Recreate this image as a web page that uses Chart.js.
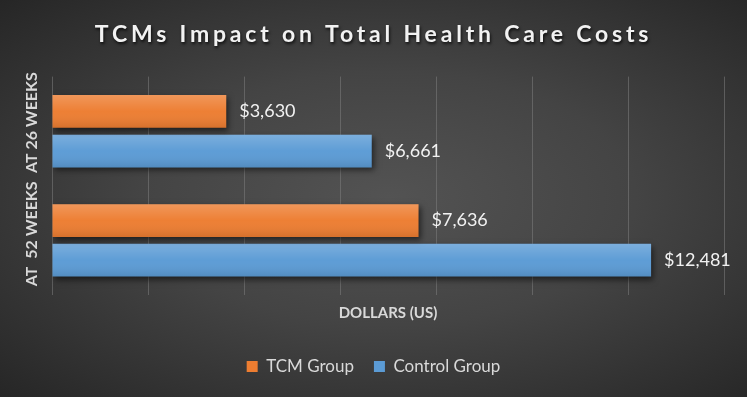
<!DOCTYPE html>
<html>
<head>
<meta charset="utf-8">
<script src="https://cdn.jsdelivr.net/npm/chart.js@4.4.1/dist/chart.umd.min.js"></script>
<style>
html,body{margin:0;padding:0;}
body{width:747px;height:397px;overflow:hidden;background:radial-gradient(ellipse at 52% 50%, #535353 0%, #444444 45%, #262626 100%);}
#wrap{width:747px;height:397px;position:relative;}
</style>
</head>
<body>
<div id="wrap"><canvas id="c" width="747" height="397"></canvas></div>
<script>
const chartTitle = 'TCMs Impact on Total Health Care Costs';
const categories = ['AT 26 WEEKS', 'AT  52 WEEKS'];
const seriesNames = ['TCM Group', 'Control Group'];
const tcmValues = [3630, 7636];
const controlValues = [6661, 12481];
const axisTitle = 'DOLLARS (US)';
const axisMax = 14000;
const axisStep = 2000;
const seriesColors = ['#ed7d31', '#5b9bd5'];

const titleStyle = {
  id: 'titleStyle',
  afterLayout(chart) {
    const tb = chart.titleBlock;
    if (tb && !tb._wrapped) {
      const orig = tb.draw;
      tb.draw = function () {
        const c = this.ctx;
        c.save();
        c.letterSpacing = '3.8px';
        c.shadowColor = 'rgba(0,0,0,0.75)';
        c.shadowBlur = 3;
        c.shadowOffsetX = 1;
        c.shadowOffsetY = 2;
        orig.apply(this, arguments);
        c.restore();
      };
      tb._wrapped = true;
    }
  }
};

const barStyle = {
  id: 'barStyle',
  beforeDatasetsDraw(chart) {
    const c = chart.ctx;
    c.save();
    c.shadowColor = 'rgba(0,0,0,0.55)';
    c.shadowBlur = 6;
    c.shadowOffsetX = 2;
    c.shadowOffsetY = 3;
  },
  afterDatasetsDraw(chart) {
    const c = chart.ctx;
    c.restore();
    chart.data.datasets.forEach((ds, di) => {
      const meta = chart.getDatasetMeta(di);
      meta.data.forEach((bar, i) => {
        const p = bar.getProps(['x', 'y', 'base', 'height'], true);
        const top = p.y - p.height / 2;
        const g = c.createLinearGradient(0, top, 0, top + p.height);
        g.addColorStop(0, 'rgba(255,255,255,0.2)');
        g.addColorStop(0.5, 'rgba(255,255,255,0.02)');
        g.addColorStop(1, 'rgba(0,0,0,0.1)');
        c.save();
        c.fillStyle = g;
        c.fillRect(p.base, top, p.x - p.base, p.height);
        c.fillStyle = '#f2f2f2';
        c.font = '18px Lato';
        c.textBaseline = 'middle';
        c.textAlign = 'left';
        c.fillText('$' + ds.data[i].toLocaleString('en-US'), p.x + 13, p.y);
        c.restore();
      });
    });
  }
};

new Chart(document.getElementById('c'), {
  type: 'bar',
  data: {
    labels: categories,
    datasets: [
      { label: seriesNames[0], data: tcmValues, backgroundColor: seriesColors[0], borderWidth: 0, barPercentage: 0.825, categoryPercentage: 0.727 },
      { label: seriesNames[1], data: controlValues, backgroundColor: seriesColors[1], borderWidth: 0, barPercentage: 0.825, categoryPercentage: 0.727 }
    ]
  },
  options: {
    indexAxis: 'y',
    responsive: false,
    devicePixelRatio: 1,
    animation: false,
    layout: { padding: { left: 0, right: 0, top: 0, bottom: 12 } },
    plugins: {
      title: {
        display: true,
        text: chartTitle,
        color: '#f2f2f2',
        font: { family: 'Lato', size: 23, weight: 'bold' },
        padding: { top: 21, bottom: 28 }
      },
      legend: {
        position: 'bottom',
        labels: {
          color: '#d9d9d9',
          font: { family: 'Lato', size: 17 },
          boxWidth: 11,
          boxHeight: 11,
          padding: 20
        }
      },
      tooltip: { enabled: false }
    },
    scales: {
      x: {
        min: 0,
        max: axisMax,
        ticks: { display: false, stepSize: axisStep },
        grid: { color: 'rgba(125,125,125,0.55)', lineWidth: 1, drawTicks: false },
        border: { display: false },
        title: {
          display: true,
          text: axisTitle,
          color: '#d9d9d9',
          font: { family: 'Lato', size: 15, weight: 'bold' },
          padding: { top: 9, bottom: 16 }
        }
      },
      y: {
        grid: { display: false, drawTicks: false },
        border: { display: false },
        ticks: {
          autoSkip: false,
          minRotation: 90,
          maxRotation: 90,
          crossAlign: 'near',
          padding: 20,
          color: '#d9d9d9',
          font: { family: 'Lato', size: 16, weight: 'bold' },
          labelOffset: -59
        },
        afterFit(s) { s.width = 52; }
      },
      yRight: {
        type: 'category',
        position: 'right',
        grid: { display: false, drawTicks: false },
        border: { display: false },
        ticks: { display: false },
        afterFit(s) { s.width = 23; }
      }
    }
  },
  plugins: [titleStyle, barStyle]
});
</script>
</body>
</html>
